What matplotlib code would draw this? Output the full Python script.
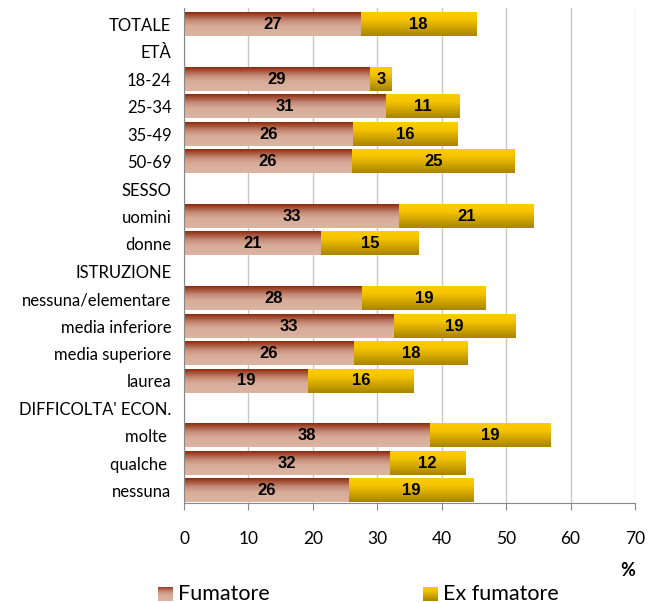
import numpy as np
import matplotlib.pyplot as plt
from matplotlib.colors import LinearSegmentedColormap

categories = ['TOTALE', 'ETÀ', '18-24', '25-34', '35-49', '50-69', 'SESSO',
              'uomini', 'donne', 'ISTRUZIONE', 'nessuna/elementare',
              'media inferiore', 'media superiore', 'laurea',
              "DIFFICOLTA' ECON.", 'molte ', 'qualche ', 'nessuna']
fumatore = [27.4, np.nan, 28.9, 31.4, 26.3, 26.1, np.nan, 33.4, 21.3, np.nan,
            27.7, 32.6, 26.4, 19.3, np.nan, 38.2, 31.9, 25.6]
ex_fumatore = [18.0, np.nan, 3.4, 11.4, 16.2, 25.3, np.nan, 20.8, 15.2, np.nan,
               19.1, 18.8, 17.6, 16.3, np.nan, 18.7, 11.7, 19.4]
xticks = [0, 10, 20, 30, 40, 50, 60, 70]

plt.rcParams['font.family'] = ['Lato', 'DejaVu Sans']

cm_fum = LinearSegmentedColormap.from_list(
    'fum', [(0, '#8e2a0c'), (0.35, '#c48a76'), (0.6, '#d8ad99'), (1, '#dbb4a2')])
cm_ex = LinearSegmentedColormap.from_list(
    'ex', [(0, '#ffcc00'), (0.3, '#f5c400'), (1, '#a88400')])

fig = plt.figure(figsize=(6.53, 6.03), dpi=100)
ax = fig.add_axes([0.2818, 0.1658, 0.6906, 0.8209])

y = np.arange(len(categories))
fum = np.array(fumatore)
ex = np.array(ex_fumatore)
b1 = ax.barh(y, np.nan_to_num(fum), height=0.84, color='none', zorder=2)
b2 = ax.barh(y, np.nan_to_num(ex), left=np.nan_to_num(fum), height=0.84,
             color='none', zorder=2)

grad = np.linspace(0, 1, 100).reshape(-1, 1)


def paint(bars, cmap):
    for bar in bars:
        if bar.get_width() <= 0:
            continue
        x0, y0 = bar.get_x(), bar.get_y()
        x1, y1 = x0 + bar.get_width(), y0 + bar.get_height()
        # ylim is inverted, so the first image row sits at the top of the bar
        ax.imshow(grad, cmap=cmap, aspect='auto', extent=[x0, x1, y1, y0],
                  zorder=2, interpolation='bilinear')


paint(b1, cm_fum)
paint(b2, cm_ex)

for i in range(len(categories)):
    if np.isnan(fum[i]):
        continue
    ax.text(fum[i] / 2, y[i], f'{fum[i]:.0f}', ha='center', va='center',
            fontsize=12, fontweight='bold', family='Liberation Sans', zorder=3)
    ax.text(fum[i] + ex[i] / 2, y[i], f'{ex[i]:.0f}', ha='center', va='center',
            fontsize=12, fontweight='bold', family='Liberation Sans', zorder=3)

ax.set_xlim(0, 70)
ax.set_ylim(17.45, -0.6)
ax.set_xticks(xticks)
ax.set_yticks(y)
ax.set_yticklabels(categories)
ax.tick_params(axis='y', length=0, pad=9, labelsize=12)
ax.tick_params(axis='x', length=5, color='#888888', pad=15, labelsize=12.5)
ax.grid(axis='x', color='#c8c8c8', linewidth=1, zorder=0)
ax.set_axisbelow(True)
for s in ['top', 'right']:
    ax.spines[s].set_visible(False)
for s in ['left', 'bottom']:
    ax.spines[s].set_color('#888888')
ax.set_xlabel('%', loc='right', fontweight='bold', fontsize=13, labelpad=11)

# legend with gradient swatches
for x0, cmap, label in [(0.242, cm_fum, 'Fumatore'), (0.648, cm_ex, 'Ex fumatore')]:
    sw = fig.add_axes([x0, 0.003, 0.022, 0.024])
    sw.imshow(grad, cmap=cmap, aspect='auto', interpolation='bilinear')
    sw.axis('off')
    fig.text(x0 + 0.031, 0.015, label, fontsize=15.5, va='center', ha='left')

fig.savefig('out.png', dpi=100)
